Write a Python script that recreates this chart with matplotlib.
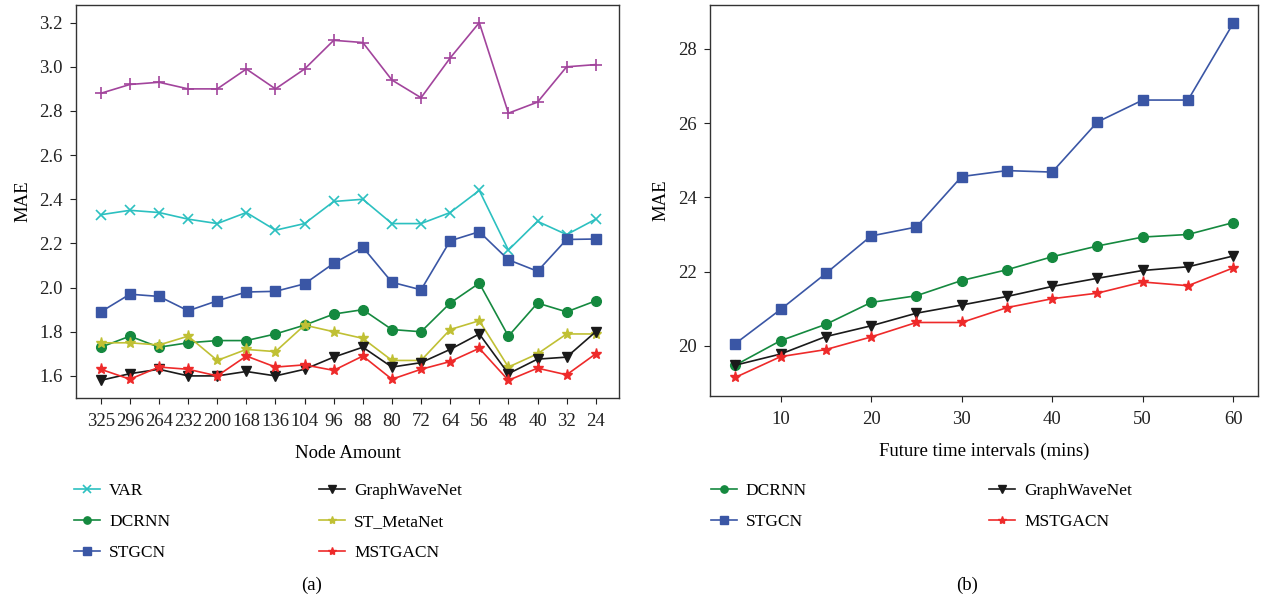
import matplotlib
matplotlib.use("Agg")
import matplotlib.pyplot as plt

plt.rcParams["font.family"] = ["Liberation Serif", "DejaVu Serif"]
plt.rcParams["font.size"] = 13.5

# -------- DATA: panel (a) --------
nodes = ["325", "296", "264", "232", "200", "168", "136", "104", "96",
         "88", "80", "72", "64", "56", "48", "40", "32", "24"]
ha_a = [2.88, 2.92, 2.93, 2.90, 2.90, 2.99, 2.90, 2.99, 3.12,
        3.11, 2.94, 2.86, 3.04, 3.20, 2.79, 2.84, 3.00, 3.01]
var_a = [2.33, 2.35, 2.34, 2.31, 2.29, 2.34, 2.26, 2.29, 2.39,
         2.40, 2.29, 2.29, 2.34, 2.44, 2.17, 2.30, 2.24, 2.31]
stgcn_a = [1.89, 1.97, 1.96, 1.895, 1.94, 1.98, 1.983, 2.017, 2.11,
           2.183, 2.024, 1.99, 2.212, 2.253, 2.126, 2.074, 2.218, 2.22]
dcrnn_a = [1.73, 1.78, 1.73, 1.75, 1.76, 1.76, 1.79, 1.83, 1.88,
           1.90, 1.81, 1.80, 1.93, 2.02, 1.78, 1.93, 1.89, 1.94]
metanet_a = [1.75, 1.75, 1.74, 1.78, 1.67, 1.72, 1.71, 1.83, 1.80,
             1.77, 1.67, 1.67, 1.81, 1.85, 1.64, 1.70, 1.79, 1.79]
gwn_a = [1.58, 1.61, 1.63, 1.60, 1.60, 1.62, 1.60, 1.63, 1.685,
         1.73, 1.64, 1.66, 1.72, 1.79, 1.61, 1.676, 1.685, 1.80]
mstgacn_a = [1.63, 1.585, 1.64, 1.63, 1.60, 1.69, 1.64, 1.65, 1.625,
             1.69, 1.585, 1.63, 1.665, 1.725, 1.58, 1.635, 1.605, 1.70]

# -------- DATA: panel (b) --------
horizon = [5, 10, 15, 20, 25, 30, 35, 40, 45, 50, 55, 60]
stgcn_b = [20.06, 20.98, 21.95, 22.96, 23.2, 24.56, 24.72, 24.68, 26.03, 26.62, 26.62, 28.69]
dcrnn_b = [19.48, 20.14, 20.58, 21.17, 21.35, 21.76, 22.05, 22.40, 22.69, 22.93, 23.0, 23.32]
gwn_b = [19.48, 19.78, 20.25, 20.54, 20.88, 21.10, 21.33, 21.60, 21.82, 22.03, 22.13, 22.42]
mstgacn_b = [19.15, 19.71, 19.90, 20.24, 20.63, 20.63, 21.03, 21.27, 21.42, 21.72, 21.62, 22.10]

# -------- STYLES --------
C_HA = "#a2449c"
C_VAR = "#2cc0c0"
C_STGCN = "#3a56a5"
C_DCRNN = "#15893f"
C_META = "#c0c034"
C_GWN = "#1a1a1a"
C_MST = "#ee2a2a"

lw = 1.2
fig = plt.figure(figsize=(12.61, 6.01), dpi=100)
ax1 = fig.add_axes([0.0603, 0.3378, 0.4306, 0.6539])
ax2 = fig.add_axes([0.5630, 0.3411, 0.4344, 0.6506])

x = list(range(len(nodes)))
ax1.plot(x, ha_a, color=C_HA, marker="+", ms=9, mew=1.2, lw=lw)
l_var, = ax1.plot(x, var_a, color=C_VAR, marker="x", ms=7, mew=1.2, lw=lw, label="VAR")
l_stgcn, = ax1.plot(x, stgcn_a, color=C_STGCN, marker="s", ms=7, lw=lw, label="STGCN")
l_dcrnn, = ax1.plot(x, dcrnn_a, color=C_DCRNN, marker="o", ms=7, lw=lw, label="DCRNN")
l_meta, = ax1.plot(x, metanet_a, color=C_META, marker="*", ms=8, lw=lw, label="ST_MetaNet")
l_gwn, = ax1.plot(x, gwn_a, color=C_GWN, marker="v", ms=7, lw=lw, label="GraphWaveNet")
l_mst, = ax1.plot(x, mstgacn_a, color=C_MST, marker="*", ms=8, lw=lw, label="MSTGACN")

ax1.set_xticks(x)
ax1.set_xticklabels(nodes)
ax1.set_xlim(-0.85, 17.8)
ax1.set_ylim(1.5, 3.28)
ax1.set_yticks([1.6, 1.8, 2.0, 2.2, 2.4, 2.6, 2.8, 3.0, 3.2])
ax1.set_yticklabels(["1.6", "1.8", "2.0", "2.2", "2.4", "2.6", "2.8", "3.0", "3.2"])
ax1.set_xlabel("Node Amount", labelpad=11)
ax1.set_ylabel("MAE", labelpad=6)

ax1.legend([l_var, l_dcrnn, l_stgcn, l_gwn, l_meta, l_mst],
           ["VAR", "DCRNN", "STGCN", "GraphWaveNet", "ST_MetaNet", "MSTGACN"],
           ncol=2, frameon=False, loc="upper left",
           bbox_to_anchor=(0.0465, 0.222), bbox_transform=fig.transFigure,
           markerscale=0.75, handlelength=1.5, handletextpad=0.5,
           columnspacing=8.6, labelspacing=0.85, fontsize=12.5)

ax2.plot(horizon, stgcn_b, color=C_STGCN, marker="s", ms=7, lw=lw, label="STGCN")
ax2.plot(horizon, dcrnn_b, color=C_DCRNN, marker="o", ms=7, lw=lw, label="DCRNN")
ax2.plot(horizon, gwn_b, color=C_GWN, marker="v", ms=7, lw=lw, label="GraphWaveNet")
ax2.plot(horizon, mstgacn_b, color=C_MST, marker="*", ms=8, lw=lw, label="MSTGACN")
ax2.set_xlim(2.2, 62.7)
ax2.set_ylim(18.65, 29.18)
ax2.set_xticks([10, 20, 30, 40, 50, 60])
ax2.set_yticks([20, 22, 24, 26, 28])
ax2.set_xlabel("Future time intervals (mins)", labelpad=11)
ax2.set_ylabel("MAE", labelpad=6)

h, lab = ax2.get_legend_handles_labels()
order = [1, 0, 2, 3]
ax2.legend([h[i] for i in order], [lab[i] for i in order],
           ncol=2, frameon=False, loc="upper left",
           bbox_to_anchor=(0.5516, 0.222), bbox_transform=fig.transFigure,
           markerscale=0.75, handlelength=1.5, handletextpad=0.5,
           columnspacing=10.5, labelspacing=0.85, fontsize=12.5)

for ax in (ax1, ax2):
    ax.tick_params(direction="out", length=4.5, width=0.8, colors="#222222")
    ax.tick_params(axis="x", pad=6)
    ax.tick_params(axis="y", pad=5)
    for s in ax.spines.values():
        s.set_color("#333333")
        s.set_linewidth(1.0)

fig.text(0.247, 0.018, "(a)", ha="center", fontsize=13.5)
fig.text(0.767, 0.018, "(b)", ha="center", fontsize=13.5)

fig.savefig("out.png", dpi=100)
